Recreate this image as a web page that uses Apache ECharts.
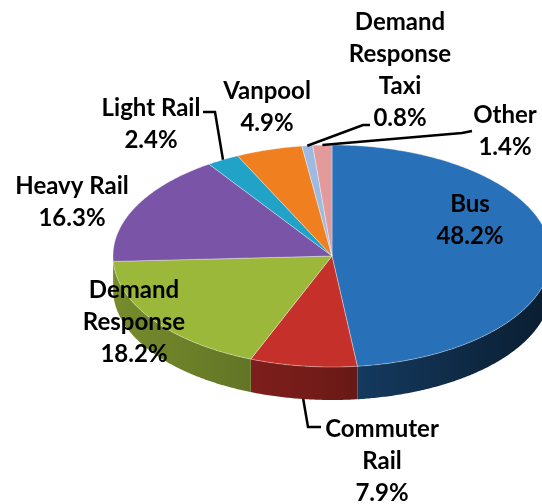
<!DOCTYPE html>
<html>
<head>
<meta charset="utf-8">
<script src="https://cdn.jsdelivr.net/npm/echarts@6/dist/echarts.min.js"></script>
<style>
  html, body { margin: 0; padding: 0; background: #fff; }
  #chart { width: 542px; height: 504px; }
</style>
</head>
<body>
<div id="chart"></div>
<script>
// Share of trips by mode (percent), clockwise from 12 o'clock
const categories = ['Bus', 'Commuter Rail', 'Demand Response', 'Heavy Rail',
                    'Light Rail', 'Vanpool', 'Demand Response Taxi', 'Other'];
const shares = [48.2, 7.9, 18.2, 16.3, 2.4, 4.9, 0.8, 1.4];
// Wrapped label names as printed beside each slice
const labelNames = ['Bus', 'Commuter\nRail', 'Demand\nResponse', 'Heavy Rail',
                    'Light Rail', 'Vanpool', 'Demand\nResponse\nTaxi', 'Other'];

// ---- styling / layout ----
const topColors = ['#2870b7', '#c6302b', '#9bb83b', '#7a54a6',
                   '#21a3c8', '#f07f1f', '#9dbbe2', '#e29a9a'];
const PIE = { cx: 332, cy: 256, rx: 219, ry: 111, depth: 33 };
const labelPos = [[470, 220], [382, 461], [134, 322], [72, 202],
                  [151, 124], [267, 107], [400, 70], [505, 131]];
// leader waypoints from label toward the slice (slice anchor is computed)
const leaders = [null, [[321, 427], [308, 427]], null, null,
                 [[203, 112], [215, 112]], null,
                 [[370, 125], [363, 125]], [[472, 131], [462, 133]]];
const leaderOnWall = [false, true, false, false, false, false, false, false];

const total = shares.reduce((a, b) => a + b, 0);
const startAngle = [];
let acc = 0;
shares.forEach(v => { startAngle.push(acc / total * 360); acc += v; });

function pt(deg, dy) {
  const r = deg * Math.PI / 180;
  return [PIE.cx + PIE.rx * Math.sin(r), PIE.cy - PIE.ry * Math.cos(r) + (dy || 0)];
}
function arc(a0, a1, dy) {
  const pts = [];
  const n = Math.max(2, Math.ceil(Math.abs(a1 - a0) / 0.5));
  for (let k = 0; k <= n; k++) pts.push(pt(a0 + (a1 - a0) * k / n, dy));
  return pts;
}
function shade(hex, f) {
  const n = parseInt(hex.slice(1), 16);
  const c = [(n >> 16) & 255, (n >> 8) & 255, n & 255].map(v => Math.round(v * f));
  return 'rgb(' + c.join(',') + ')';
}

const data = shares.map((v, i) => ({ name: categories[i], value: [v] }));

function sliceRange(params, api) {
  const i = params.dataIndex;
  const a0 = startAngle[i];
  const a1 = a0 + api.value(0) / total * 360;
  return [a0, a1];
}

const chart = echarts.init(document.getElementById('chart'), null, { renderer: 'canvas' });
chart.setOption({
  backgroundColor: '#ffffff',
  animation: false,
  series: [
    {
      // outer wall of the disc (front half only)
      type: 'custom', coordinateSystem: 'none', z: 1, data: data,
      renderItem: function (params, api) {
        const [a0, a1] = sliceRange(params, api);
        const s = Math.max(a0, 90), e = Math.min(a1, 270);
        if (e <= s) return { type: 'group', children: [] };
        const top = arc(s, e, 0);
        const bot = arc(e, s, PIE.depth);
        const c = topColors[params.dataIndex];
        return {
          type: 'polygon',
          shape: { points: top.concat(bot) },
          style: {
            fill: {
              type: 'linear', global: true,
              x: PIE.cx - PIE.rx, y: 0, x2: PIE.cx + PIE.rx, y2: 0,
              colorStops: [{ offset: 0, color: shade(c, 0.76) },
                           { offset: 0.45, color: shade(c, 0.58) },
                           { offset: 1, color: shade(c, 0.26) }]
            },
            stroke: null
          }
        };
      }
    },
    {
      // top face of each slice
      type: 'custom', coordinateSystem: 'none', z: 2, data: data,
      renderItem: function (params, api) {
        const [a0, a1] = sliceRange(params, api);
        const pts = [[PIE.cx, PIE.cy]].concat(arc(a0, a1, 0));
        return {
          type: 'polygon',
          shape: { points: pts },
          style: { fill: topColors[params.dataIndex], stroke: 'rgba(255,255,255,0.35)', lineWidth: 1 }
        };
      }
    },
    {
      // data labels with leader lines
      type: 'custom', coordinateSystem: 'none', z: 3, data: data,
      renderItem: function (params, api) {
        const i = params.dataIndex;
        const [a0, a1] = sliceRange(params, api);
        const children = [];
        if (leaders[i]) {
          const anchor = pt((a0 + a1) / 2, leaderOnWall[i] ? PIE.depth : 0);
          children.push({
            type: 'polyline',
            shape: { points: leaders[i].concat([anchor]) },
            style: { stroke: '#000', lineWidth: 2.5, fill: null }
          });
        }
        children.push({
          type: 'text',
          style: {
            text: labelNames[i] + '\n' + api.value(0).toFixed(1) + '%',
            x: labelPos[i][0], y: labelPos[i][1],
            align: 'center', verticalAlign: 'middle',
            fontFamily: 'Lato', fontWeight: 'bold', fontSize: 24,
            lineHeight: 32, fill: '#000'
          }
        });
        return { type: 'group', children: children };
      }
    }
  ]
});
</script>
</body>
</html>
